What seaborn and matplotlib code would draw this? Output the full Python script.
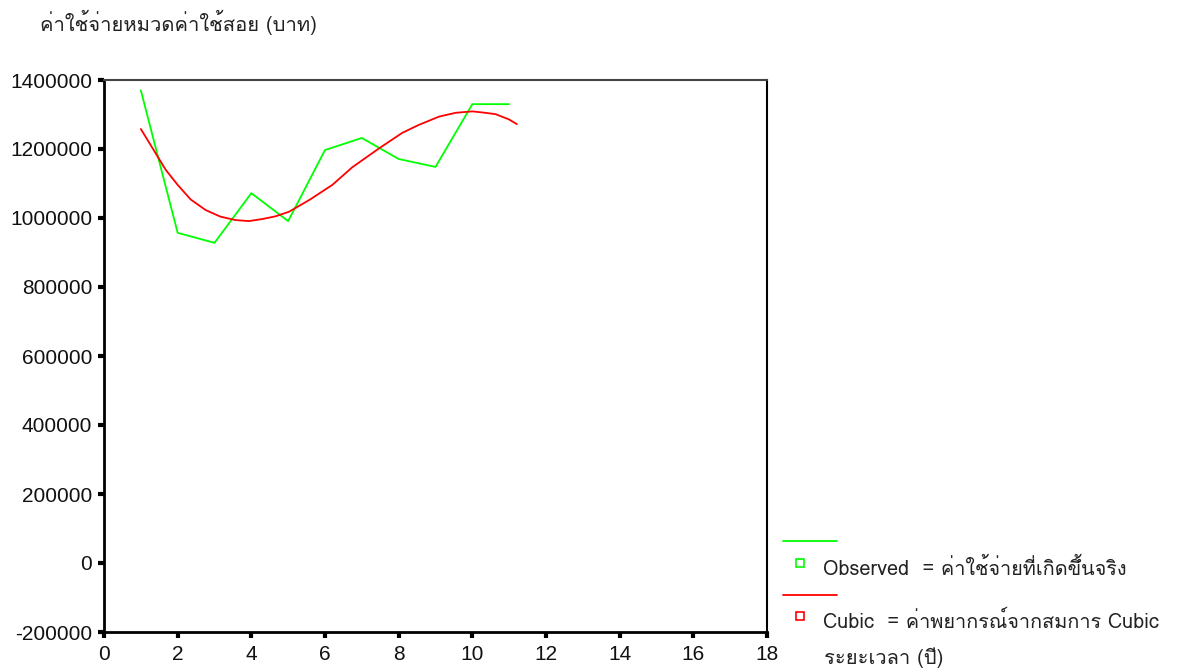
import matplotlib
matplotlib.use("Agg")
import matplotlib.pyplot as plt
import seaborn as sns
import pandas as pd
from matplotlib import font_manager as fm
from matplotlib.ft2font import FT2Font
from matplotlib.lines import Line2D

# ---- data ----
obs_years = [1, 2, 3, 4, 5, 6, 7, 8, 9, 10, 11]
obs_values = [1370000, 957000, 928000, 1072000, 991000, 1197000, 1232000, 1171000, 1148000, 1330000, 1330000]

cubic_years = [1.0, 1.32, 1.68, 2.0, 2.35, 2.76, 3.16, 3.57, 3.93, 4.3, 4.66, 5.02, 5.57,
               6.2, 6.74, 7.47, 8.1, 8.55, 9.1, 9.55, 10.0, 10.27, 10.63, 10.99, 11.21]
cubic_values = [1258000, 1202000, 1139000, 1096000, 1054000, 1023000, 1004000, 994000, 991000,
                997000, 1005000, 1018000, 1052000, 1096000, 1147000, 1202000, 1247000, 1270000,
                1294000, 1305000, 1309000, 1306000, 1301000, 1286000, 1272000]

y_ticks = [-200000, 0, 200000, 400000, 600000, 800000, 1000000, 1200000, 1400000]
x_ticks = [0, 2, 4, 6, 8, 10, 12, 14, 16, 18]

y_title = "ค่าใช้จ่ายหมวดค่าใช้สอย (บาท)"
x_title = "ระยะเวลา (ปี)"
legend_labels = ["Observed  = ค่าใช้จ่ายที่เกิดขึ้นจริง", "Cubic  = ค่าพยากรณ์จากสมการ Cubic"]


def find_thai_font():
    names = []
    for f in fm.fontManager.ttflist:
        try:
            cm = FT2Font(f.fname).get_charmap()
            if 0x0E04 in cm and 0x0E32 in cm:
                names.append(f.name)
        except Exception:
            pass
    return names[0] if names else None


sns.set_theme(style="white")
thai = find_thai_font()
fam = ([thai] if thai else []) + ["Liberation Sans", "DejaVu Sans"]
plt.rcParams["font.family"] = fam

fig = plt.figure(figsize=(11.88, 6.72), dpi=100)
ax = fig.add_axes([104 / 1188, 1 - 632 / 672, (767 - 104) / 1188, (632 - 80) / 672])

df_obs = pd.DataFrame({"year": obs_years, "value": obs_values})
df_cub = pd.DataFrame({"year": cubic_years, "value": cubic_values})
sns.lineplot(data=df_obs, x="year", y="value", ax=ax, color="#00ff00", linewidth=1.3)
sns.lineplot(data=df_cub, x="year", y="value", ax=ax, color="#ff0000", linewidth=1.3)

ax.set_xlim(0, 18)
ax.set_ylim(-200000, 1400000)
ax.set_xticks(x_ticks)
ax.set_yticks(y_ticks)
ax.set_xticklabels([str(t) for t in x_ticks], fontsize=15, family=["Liberation Sans"], color="#111111")
ax.set_yticklabels([str(t) for t in y_ticks], fontsize=15, family=["Liberation Sans"], color="#111111")
ax.set_xlabel("")
ax.set_ylabel("")
ax.tick_params(axis="y", direction="out", length=4, width=3, color="black", pad=4.5, left=True)
ax.tick_params(axis="x", direction="out", length=4, width=3, color="black", pad=5.5, bottom=True)
for side in ["left", "bottom"]:
    ax.spines[side].set_color("black")
    ax.spines[side].set_linewidth(2)
ax.spines["right"].set_color("black")
ax.spines["right"].set_linewidth(1.5)
ax.spines["top"].set_color("#444444")
ax.spines["top"].set_linewidth(1.5)
ax.grid(False)

fig.text(40 / 1188, 1 - 22 / 672, y_title, fontsize=14.5, va="center", ha="left", color="#222222")
fig.text(824 / 1188, 1 - 658 / 672, x_title, fontsize=14.5, va="center", ha="left", color="#222222")

# legend
colors = ["#00ff00", "#ff0000"]
line_y = [541, 595]
mark_y = [563, 616]
for c, ly, my, lab in zip(colors, line_y, mark_y, legend_labels):
    fig.add_artist(Line2D([783 / 1188, 837 / 1188], [1 - ly / 672, 1 - ly / 672], color=c, linewidth=1.3,
                          transform=fig.transFigure))
    fig.add_artist(Line2D([800 / 1188], [1 - my / 672], marker="s", markersize=6, markerfacecolor="white",
                          markeredgecolor=c, markeredgewidth=1.2, linestyle="none", transform=fig.transFigure))
    fig.text(823 / 1188, 1 - (my + 5) / 672, lab, fontsize=14.3, va="center", ha="left", color="#222222")

fig.savefig("out.png", dpi=100)
